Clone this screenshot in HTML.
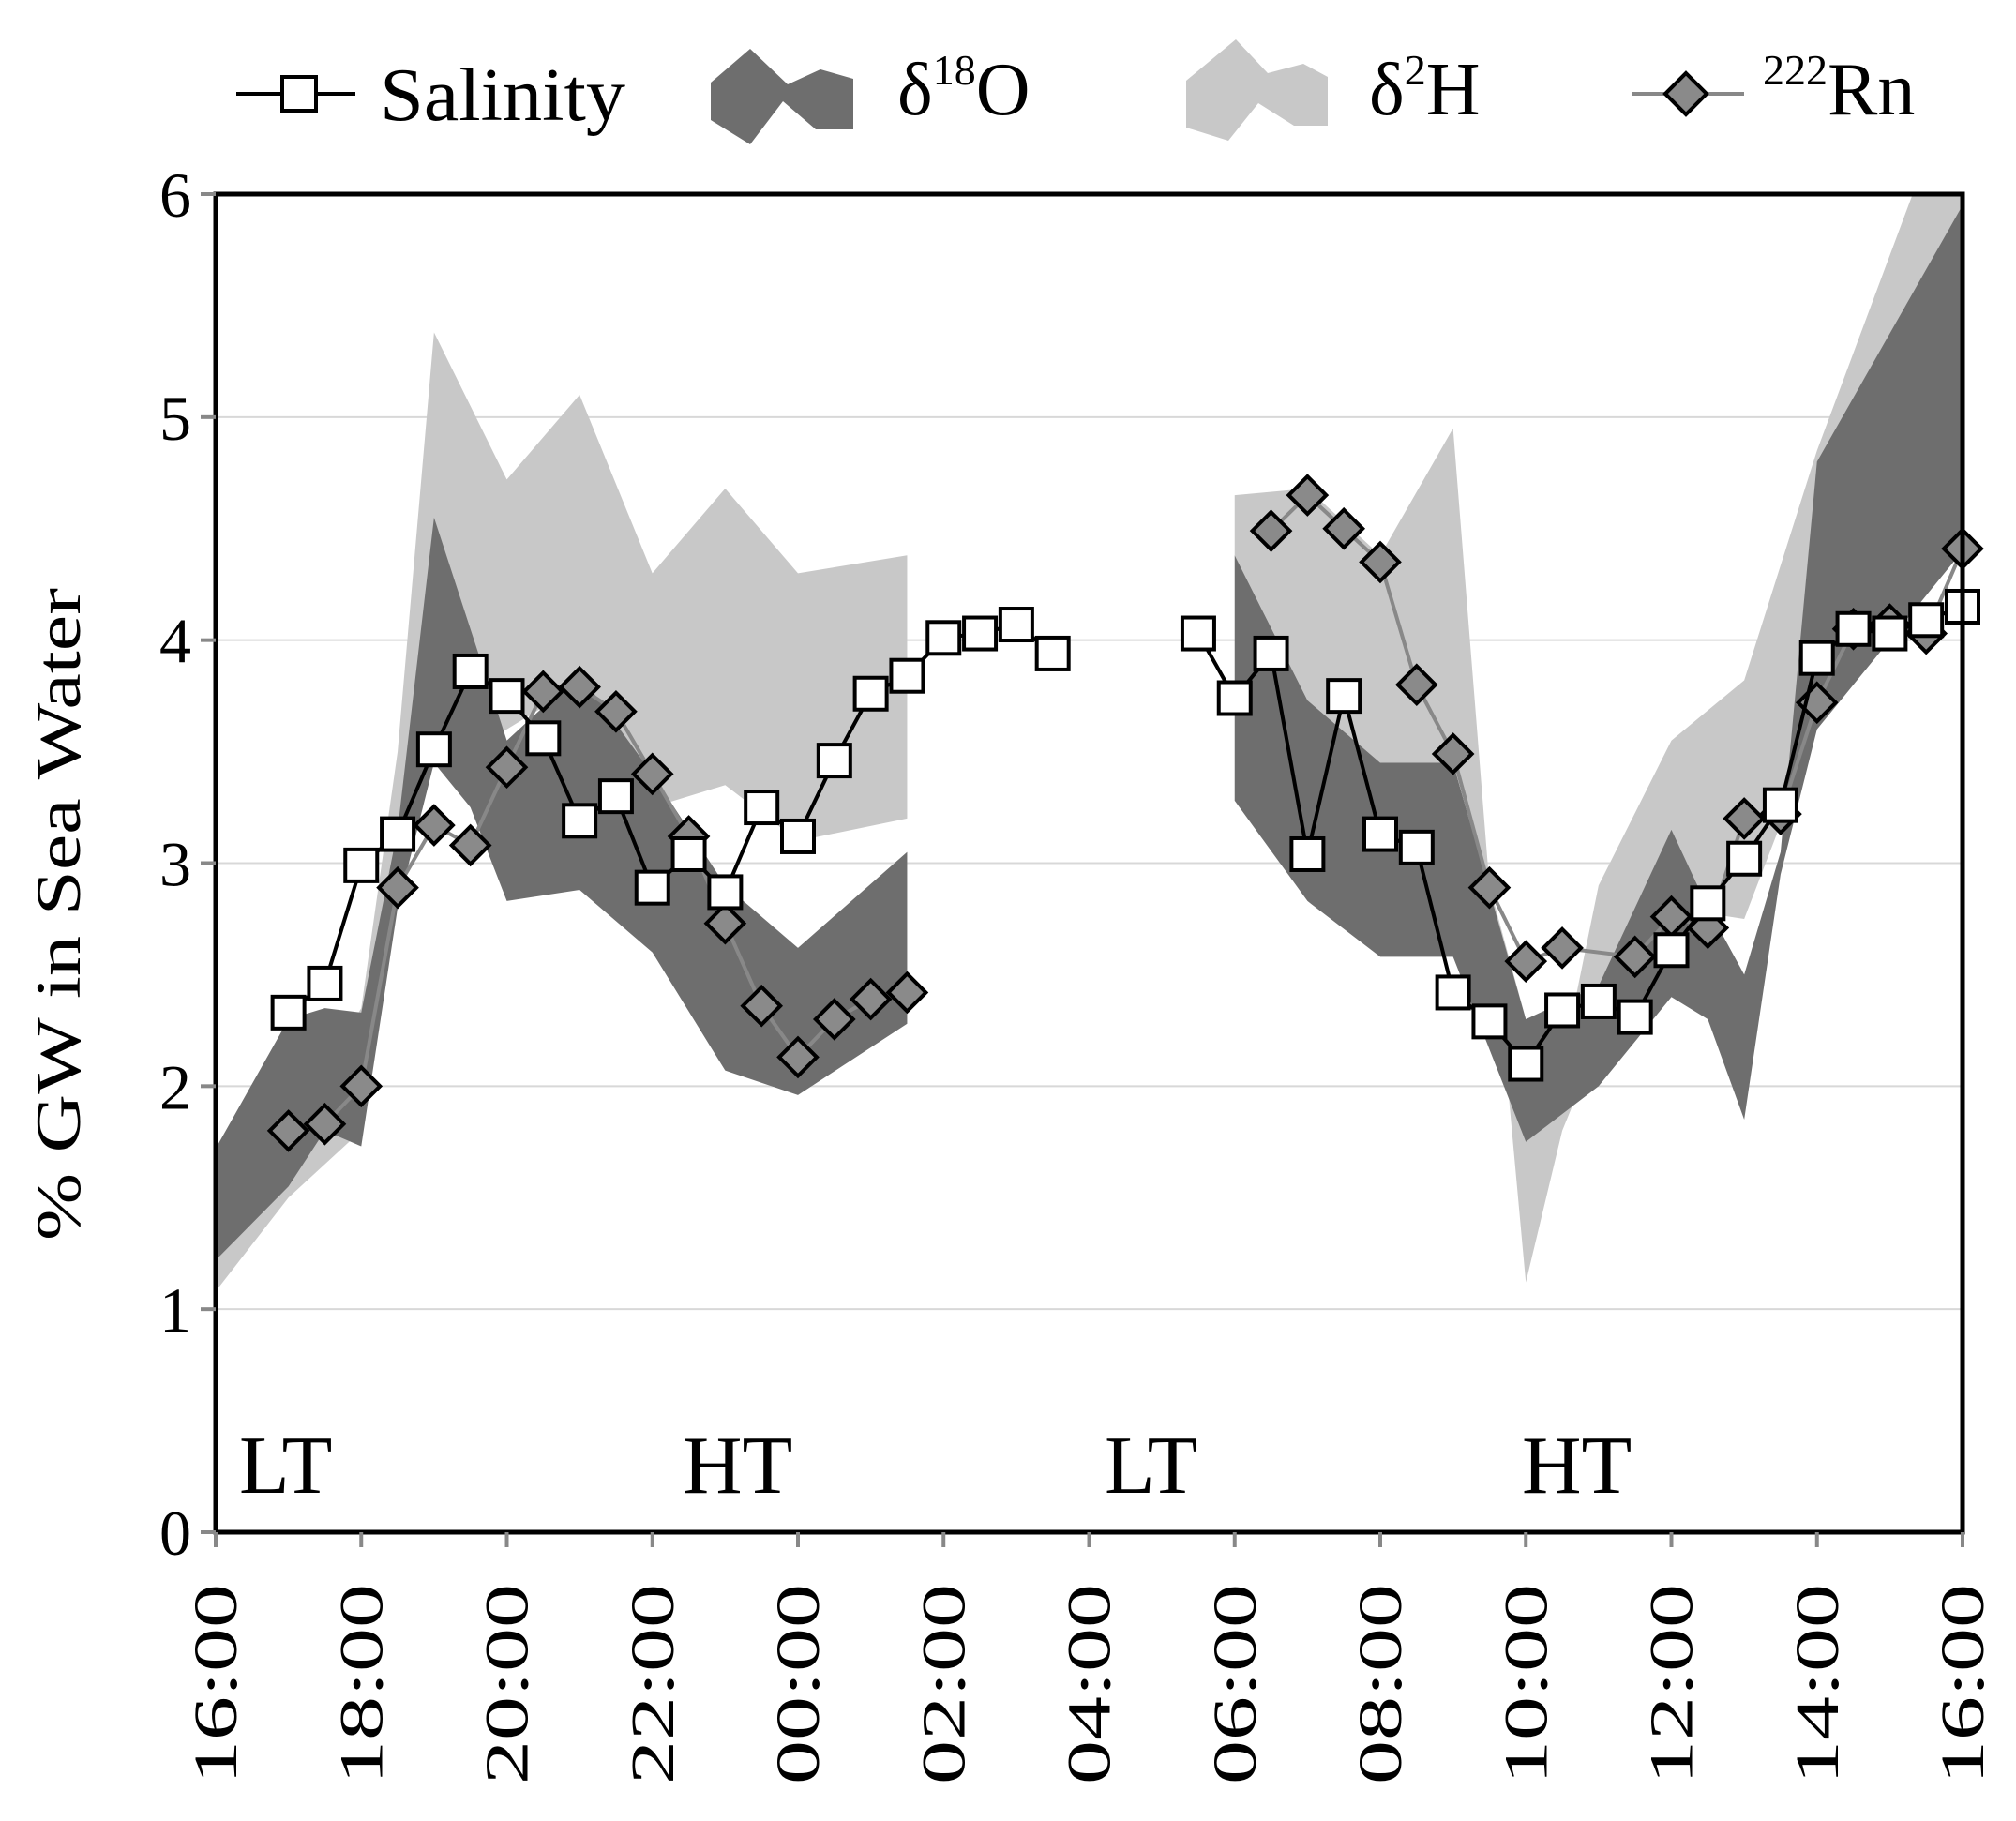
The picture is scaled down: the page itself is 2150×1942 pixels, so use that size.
<!DOCTYPE html>
<html><head><meta charset="utf-8">
<style>
html,body{margin:0;padding:0;background:#fff;}
svg{display:block;font-family:"Liberation Serif",serif;}
</style></head>
<body>
<svg id="chart" width="2150" height="1942" viewBox="0 0 2150 1942" xmlns="http://www.w3.org/2000/svg">
<g id="legend">
  <g>
    <line x1="252" y1="100" x2="379" y2="100" stroke="#000" stroke-width="4"/>
    <rect x="301" y="82" width="36" height="36" fill="#fff" stroke="#000" stroke-width="4"/>
    <text x="405" y="128" font-size="80" textLength="262" lengthAdjust="spacingAndGlyphs">Salinity</text>
  </g>
  <g>
    <polygon points="758,88 800,52 840,90 875,74 910,84 910,138 870,138 835,108 800,154 758,128" fill="#6e6e6e"/>
    <text x="957" y="122" font-size="80">δ<tspan font-size="46" dy="-32">18</tspan><tspan dy="32">O</tspan></text>
  </g>
  <g>
    <polygon points="1265,86 1318,42 1352,78 1390,68 1416,82 1416,134 1380,134 1342,110 1310,150 1265,136" fill="#c8c8c8"/>
    <text x="1460" y="122" font-size="80">δ<tspan font-size="46" dy="-32">2</tspan><tspan dy="32">H</tspan></text>
  </g>
  <g>
    <line x1="1740" y1="100" x2="1860" y2="100" stroke="#888" stroke-width="4"/>
    <polygon points="1798,78 1820,100 1798,122 1776,100" fill="#8a8a8a" stroke="#000" stroke-width="4"/>
    <text x="1880" y="122" font-size="80"><tspan font-size="46" dy="-32">222</tspan><tspan dy="32">Rn</tspan></text>
  </g>
</g>
<g id="grid"></g>
<g id="bands"></g>
<g id="series"></g>
<g id="axes"></g>
<text transform="translate(85,975) rotate(-90)" text-anchor="middle" font-size="68" textLength="696" lengthAdjust="spacingAndGlyphs">% GW in Sea Water</text>
<g>
  <text x="255" y="1592" font-size="88">LT</text>
  <text x="728" y="1592" font-size="88">HT</text>
  <text x="1178" y="1592" font-size="88">LT</text>
  <text x="1623" y="1592" font-size="88">HT</text>
</g>
</svg>
<script>
// hours since 16:00
const salH = [1,1.5,2,2.5,3,3.5,4,4.5,5,5.5,6,6.5,7,7.5,8,8.5,9,9.5,10,10.5,11,11.5];
const salV = [2.33,2.46,2.99,3.13,3.51,3.86,3.75,3.56,3.19,3.30,2.89,3.04,2.87,3.25,3.12,3.46,3.76,3.84,4.01,4.03,4.07,3.94];
const salH2 = [13.5,14,14.5,15,15.5,16,16.5,17,17.5,18,18.5,19,19.5,20,20.5,21,21.5,22,22.5,23,23.5,24];
const salV2 = [4.03,3.74,3.94,3.04,3.75,3.13,3.07,2.42,2.29,2.10,2.34,2.38,2.31,2.61,2.82,3.02,3.26,3.92,4.05,4.03,4.09,4.15];
const rnH = [1,1.5,2,2.5,3,3.5,4,4.5,5,5.5,6,6.5,7,7.5,8,8.5,9,9.5];
const rnV = [1.80,1.83,2.00,2.89,3.17,3.08,3.43,3.77,3.79,3.68,3.40,3.12,2.73,2.36,2.13,2.30,2.39,2.42];
const rnH2 = [14.5,15,15.5,16,16.5,17,17.5,18,18.5,19.5,20,20.5,21,21.5,22,22.5,23,23.5,24];
const rnV2 = [4.49,4.65,4.50,4.35,3.80,3.49,2.89,2.56,2.62,2.58,2.76,2.71,3.20,3.22,3.72,4.05,4.07,4.03,4.41];
const o18H = [0,1,1.5,2,2.5,3,3.5,4,5,6,7,8,9.5];
const o18Up = [1.72,2.30,2.35,2.33,3.15,4.55,4.05,3.55,3.85,3.40,2.90,2.62,3.05];
const o18Lo = [1.22,1.55,1.80,1.73,2.80,3.45,3.25,2.83,2.88,2.60,2.07,1.96,2.28];
const o18H2 = [14,15,16,17,18,19,20,20.5,21,21.5,22,24];
const o18Up2 = [4.38,3.73,3.45,3.45,2.30,2.45,3.15,2.80,2.50,3.05,4.80,5.95];
const o18Lo2 = [3.28,2.83,2.58,2.58,1.75,2.00,2.40,2.30,1.85,2.95,3.60,4.40];
const h2H = [0,1,2,2.5,3,4,5,6,7,8,9.5];
const h2Up = [1.30,1.80,2.35,3.50,5.38,4.72,5.10,4.30,4.68,4.30,4.38];
const h2Lo = [1.08,1.50,1.80,3.00,3.45,3.60,3.80,3.25,3.35,3.10,3.20];
const h2H2 = [14,15,16,17,17.5,18,18.5,19,20,21,22,24];
const h2Up2 = [4.65,4.68,4.38,4.95,2.90,2.30,2.10,2.90,3.55,3.82,4.85,6.6];
const h2Lo2 = [4.38,3.73,3.45,3.45,2.90,1.12,1.80,2.20,2.80,2.75,3.60,4.45];
const yTicks = [0,1,2,3,4,5,6];
const xTickLabels = ["16:00","18:00","20:00","22:00","00:00","02:00","04:00","06:00","08:00","10:00","12:00","14:00","16:00"];

const X0=230, X1=2093, Y0=1634, Y6=207;
const xs = h => X0 + h*(X1-X0)/24;
const ys = v => Y0 - v*(Y0-Y6)/6;
const NS="http://www.w3.org/2000/svg";
function mk(tag, parent, attrs){const e=document.createElementNS(NS,tag);for(const k in attrs)e.setAttribute(k,attrs[k]);parent.appendChild(e);return e;}

const grid=document.getElementById('grid');
yTicks.forEach(v=>{ if(v>0&&v<6){const l=mk('line',grid,{x1:X0,x2:X1,y1:ys(v),y2:ys(v),stroke:'#d8d8d8','stroke-width':2});

}});

const clip=mk('clipPath',document.getElementById('chart'),{id:'pc'});
mk('rect',clip,{x:X0,y:Y6,width:X1-X0,height:Y0-Y6});
const bands=document.getElementById('bands');
bands.setAttribute('clip-path','url(#pc)');
function band(H,U,L,fill,name){
  const pts=H.map((h,i)=>xs(h)+','+ys(U[i])).concat(H.map((h,i)=>xs(h)+','+ys(L[i])).reverse());
  const p=mk('polygon',bands,{points:pts.join(' '),fill:fill});
  
  
}
band(h2H,h2Up,h2Lo,'#c8c8c8','d2h-band-1');
band(h2H2,h2Up2,h2Lo2,'#c8c8c8','d2h-band-2');
band(o18H,o18Up,o18Lo,'#6e6e6e','d18o-band-1');
band(o18H2,o18Up2,o18Lo2,'#6e6e6e','d18o-band-2');

const ser=document.getElementById('series');
function line(H,V,stroke,name){
  const l=mk('polyline',ser,{points:H.map((h,i)=>xs(h)+','+ys(V[i])).join(' '),fill:'none',stroke:stroke,'stroke-width':4});
  
  
}
function diamonds(H,V,name){
  H.forEach((h,i)=>{const x=xs(h),y=ys(V[i]);
    const d=mk('polygon',ser,{points:`${x},${y-20} ${x+20},${y} ${x},${y+20} ${x-20},${y}`,fill:'#8a8a8a',stroke:'#000','stroke-width':4});
    
    });
}
function squares(H,V,name){
  H.forEach((h,i)=>{const x=xs(h),y=ys(V[i]);
    const r=mk('rect',ser,{x:x-17,y:y-17,width:34,height:34,fill:'#fff',stroke:'#000','stroke-width':4});
    
    });
}
line(rnH,rnV,'#888','rn222-line-1'); line(rnH2,rnV2,'#888','rn222-line-2');
diamonds(rnH,rnV,'rn222'); diamonds(rnH2,rnV2,'rn222');
line(salH,salV,'#000','salinity-line-1'); line(salH2,salV2,'#000','salinity-line-2');
squares(salH,salV,'salinity'); squares(salH2,salV2,'salinity');

const ax=document.getElementById('axes');
const fr=mk('rect',ax,{x:X0,y:Y6,width:X1-X0,height:Y0-Y6,fill:'none',stroke:'#000','stroke-width':5});


yTicks.forEach(v=>{
  mk('line',ax,{x1:X0-16,x2:X0,y1:ys(v),y2:ys(v),stroke:'#888','stroke-width':4});
  const t=mk('text',ax,{x:X0-26,y:ys(v)+24,'text-anchor':'end','font-size':68});
  t.textContent=v;
  
  
});
xTickLabels.forEach((s,i)=>{
  const x=xs(i*2);
  mk('line',ax,{x1:x,x2:x,y1:Y0,y2:Y0+16,stroke:'#888','stroke-width':4});
  const t=mk('text',ax,{transform:`translate(${x+22},${Y0+55}) rotate(-90)`,'text-anchor':'end','font-size':66,textLength:214,lengthAdjust:'spacingAndGlyphs'});
  t.textContent=s;
  
  
});
</script>
</body></html>
